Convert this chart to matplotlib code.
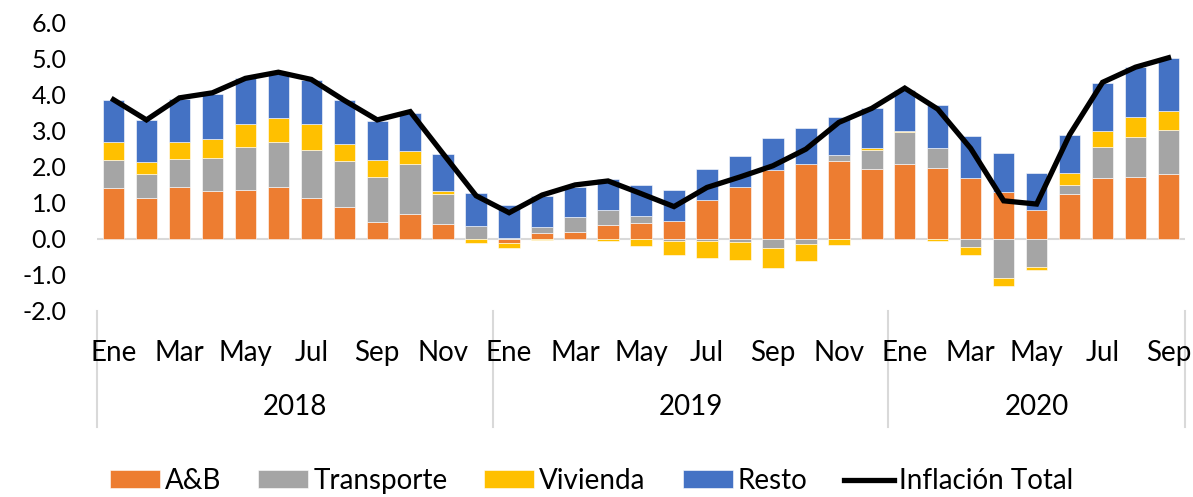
import matplotlib
matplotlib.use("Agg")
import matplotlib.pyplot as plt
import matplotlib.transforms as mtransforms
import numpy as np

plt.rcParams['font.family'] = ['Lato', 'DejaVu Sans']

years = ["2018", "2019", "2020"]
month_names = ["Ene", "Feb", "Mar", "Abr", "May", "Jun", "Jul", "Ago", "Sep", "Oct", "Nov", "Dic"]
months = month_names * 2 + month_names[:9]

ab = [1.41, 1.12, 1.44, 1.31, 1.35, 1.44, 1.14, 0.89, 0.46, 0.69, 0.42, 0.00,
      -0.11, 0.15, 0.20, 0.39, 0.44, 0.48, 1.06, 1.43, 1.89, 2.07, 2.15, 1.92,
      2.06, 1.97, 1.69, 1.30, 0.79, 1.23, 1.68, 1.72, 1.80]
transporte = [0.77, 0.66, 0.78, 0.93, 1.18, 1.25, 1.33, 1.25, 1.25, 1.37, 0.83, 0.34,
              0.02, 0.17, 0.40, 0.40, 0.20, -0.07, -0.07, -0.09, -0.26, -0.15, 0.17, 0.55,
              0.89, 0.54, -0.22, -1.10, -0.79, 0.26, 0.86, 1.10, 1.20]
vivienda = [0.51, 0.34, 0.47, 0.52, 0.65, 0.66, 0.71, 0.49, 0.48, 0.38, 0.07, -0.11,
            -0.14, -0.03, 0.00, -0.07, -0.20, -0.39, -0.46, -0.50, -0.54, -0.47, -0.18, 0.05,
            0.02, -0.05, -0.22, -0.21, -0.08, 0.33, 0.45, 0.54, 0.55]
resto = [1.14, 1.16, 1.19, 1.26, 1.26, 1.21, 1.21, 1.20, 1.07, 1.05, 1.03, 0.92,
         0.92, 0.87, 0.84, 0.87, 0.86, 0.87, 0.86, 0.85, 0.90, 0.99, 1.05, 1.11,
         1.16, 1.18, 1.16, 1.06, 1.02, 1.06, 1.32, 1.40, 1.44]
total = [3.85, 3.29, 3.90, 4.04, 4.44, 4.61, 4.41, 3.83, 3.29, 3.52, 2.35, 1.19,
         0.72, 1.21, 1.49, 1.60, 1.25, 0.89, 1.42, 1.71, 2.02, 2.48, 3.22, 3.61,
         4.17, 3.59, 2.50, 1.05, 0.96, 2.88, 4.33, 4.75, 5.01]

series = [("A&B", ab, "#ED7D31"), ("Transporte", transporte, "#A5A5A5"),
          ("Vivienda", vivienda, "#FFC000"), ("Resto", resto, "#4472C4")]

fig = plt.figure(figsize=(11.93, 4.97), dpi=100)
ax = fig.add_axes([97/1193, 1 - 311/497, (1185 - 97)/1193, (311 - 22)/497])

n = len(months)
x = np.arange(n)
pos_bottom = np.zeros(n)
neg_bottom = np.zeros(n)
handles = []
for name, vals, col in series:
    v = np.array(vals)
    bottom = np.where(v >= 0, pos_bottom, neg_bottom)
    b = ax.bar(x, v, width=0.65, bottom=bottom, color=col, edgecolor="white",
               linewidth=0.4, label=name, zorder=2)
    handles.append(b)
    pos_bottom = pos_bottom + np.where(v >= 0, v, 0)
    neg_bottom = neg_bottom + np.where(v < 0, v, 0)

line, = ax.plot(x, total, color="black", lw=3.8, label="Inflación Total", zorder=3,
                solid_joinstyle="miter")
handles.append(line)

ax.axhline(0, color="#D9D9D9", lw=1.5, zorder=1)

ax.set_xlim(-0.5, n - 0.5)
ax.set_ylim(-2, 6)
ax.set_yticks(np.arange(-2, 7, 1))
ax.set_yticklabels([f"{t:.1f}" for t in np.arange(-2, 7, 1)], fontsize=18)
ax.tick_params(axis="y", length=0, pad=22)

tick_idx = list(range(0, n, 2))
ax.set_xticks(tick_idx)
ax.set_xticklabels([months[i] for i in tick_idx], fontsize=20)
ax.tick_params(axis="x", length=0, pad=21)

for s in ax.spines.values():
    s.set_visible(False)

trans = mtransforms.blended_transform_factory(ax.transData, ax.transAxes)
bounds = [-0.5, 11.5, 23.5, n - 0.5]
for bx in bounds:
    ax.plot([bx, bx], [0, -0.40], transform=trans, color="#D9D9D9", lw=1.5,
            clip_on=False, zorder=0.5)
for i, yr in enumerate(years):
    cx = (bounds[i] + bounds[i + 1]) / 2
    ax.text(cx, -(407 - 311) / 289, yr, transform=trans, ha="center", va="center",
            fontsize=20)

fig.legend(handles=handles, labels=[h.get_label() for h in handles], loc="center",
           bbox_to_anchor=(0.496, 1 - 481/497), ncol=5, frameon=False, fontsize=20,
           handlelength=1.8, handleheight=0.61, handletextpad=0.18, columnspacing=1.33)

fig.savefig("out.png", dpi=100)
